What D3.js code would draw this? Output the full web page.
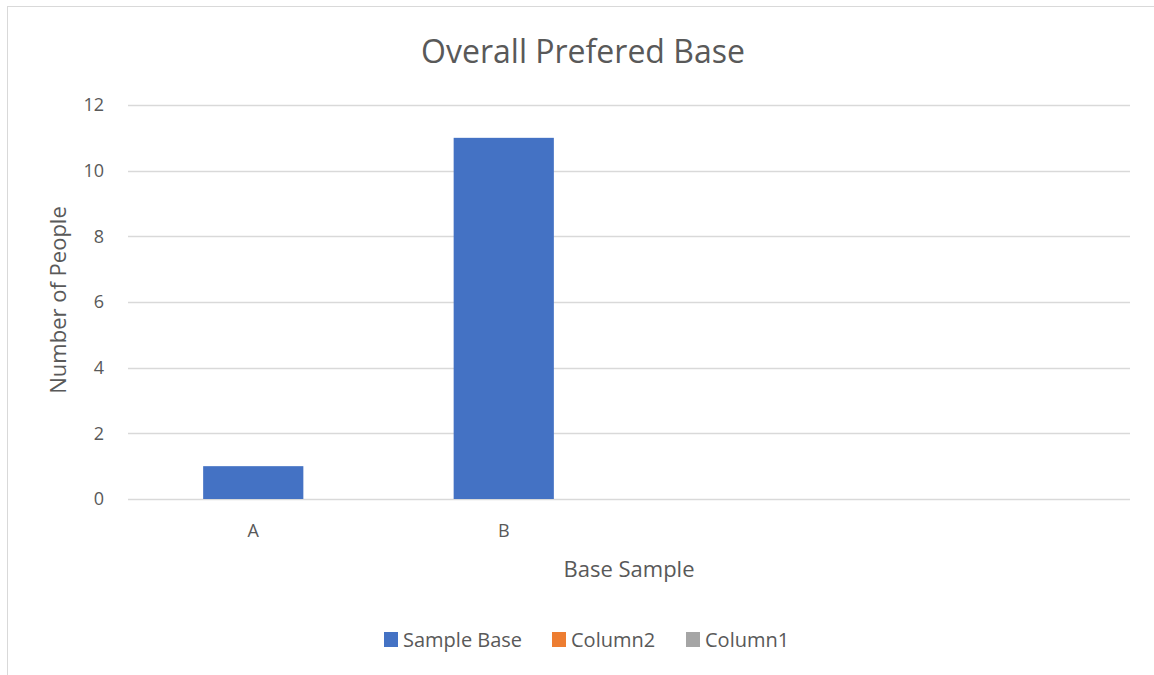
<!DOCTYPE html>
<html><head><meta charset="utf-8">
<script src="https://cdn.jsdelivr.net/npm/d3@7"></script>
<style>body{margin:0;background:#fff;} svg{display:block;font-family:"Open Sans",sans-serif;}</style>
</head><body>
<script>
const categories = ["A", "B", "", ""];
const sampleBase = [1, 11, null, null];
const seriesNames = ["Sample Base", "Column2", "Column1"];
const seriesColors = ["#4472C4", "#ED7D31", "#A5A5A5"];
const yTicks = [0, 2, 4, 6, 8, 10, 12];

const W = 1154, H = 675;
const svg = d3.select("body").append("svg").attr("width", W).attr("height", H);
svg.append("rect").attr("x", 7.5).attr("y", 6.5).attr("width", W).attr("height", H)
  .attr("fill", "#fff").attr("stroke", "#d9d9d9");

const m = {left: 128, right: 1130, top: 105, bottom: 499};
const x = d3.scaleBand().domain(d3.range(categories.length)).range([m.left, m.right]).paddingInner(0.6).paddingOuter(0.3);
const y = d3.scaleLinear().domain([0, 12]).range([m.bottom, m.top]);

// gridlines
svg.append("g").selectAll("line").data(yTicks).join("line")
  .attr("x1", m.left).attr("x2", m.right)
  .attr("y1", d => Math.round(y(d)) + 0.5).attr("y2", d => Math.round(y(d)) + 0.5)
  .attr("stroke", "#d9d9d9").attr("stroke-width", 1.3);

// y axis labels
const yAxis = d3.axisLeft(y).tickValues(yTicks).tickSize(0).tickPadding(0);
const gy = svg.append("g").attr("transform", `translate(${m.left - 24},0)`).call(yAxis);
gy.select(".domain").remove();
gy.selectAll("text").attr("fill", "#595959").style("font-size", "18px").style("font-family", "'Open Sans',sans-serif");

// x axis labels
const xAxis = d3.axisBottom(x).tickSize(0).tickPadding(0).tickFormat(i => categories[i]);
const gx = svg.append("g").attr("transform", `translate(0,${m.bottom})`).call(xAxis);
gx.select(".domain").remove();
gx.selectAll("text").attr("y", 38).attr("dy", null).attr("fill", "#595959").style("font-size", "18px").style("font-family", "'Open Sans',sans-serif");

// bars
svg.append("g").selectAll("rect").data(sampleBase.map((v, i) => ({v, i})).filter(d => d.v != null)).join("rect")
  .attr("x", d => x(d.i)).attr("width", x.bandwidth())
  .attr("y", d => y(d.v)).attr("height", d => y(0) - y(d.v))
  .attr("fill", seriesColors[0]);

// title
svg.append("text").attr("x", 583).attr("y", 63).attr("text-anchor", "middle")
  .attr("fill", "#595959").style("font-size", "32px").text("Overall Prefered Base");

// axis titles
svg.append("text").attr("transform", "translate(66,300) rotate(-90)").attr("text-anchor", "middle")
  .attr("fill", "#595959").style("font-size", "22px").text("Number of People");
svg.append("text").attr("x", 629).attr("y", 577).attr("text-anchor", "middle")
  .attr("fill", "#595959").style("font-size", "22px").text("Base Sample");

// legend
const legX = [384, 552, 686];
const leg = svg.append("g").selectAll("g").data(seriesNames).join("g")
  .attr("transform", (d, i) => `translate(${legX[i]},632)`);
leg.append("rect").attr("width", 14).attr("height", 15).attr("fill", (d, i) => seriesColors[i]);
leg.append("text").attr("x", 19).attr("y", 15).attr("fill", "#595959").style("font-size", "20px").text(d => d);
</script>
</body></html>
